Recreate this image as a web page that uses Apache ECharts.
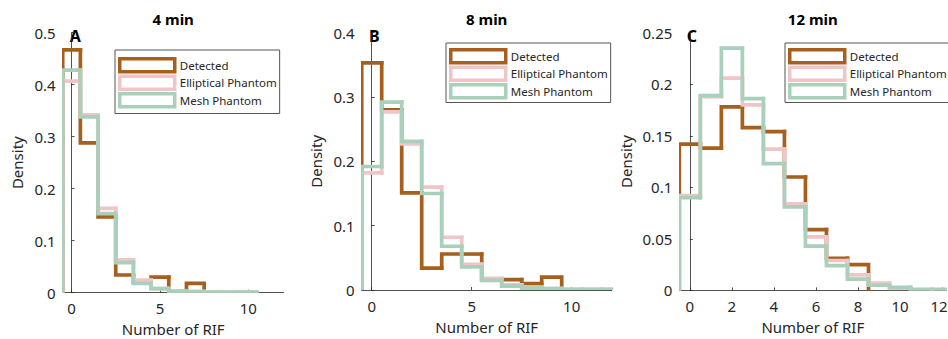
<!DOCTYPE html>
<html><head><meta charset="utf-8">
<script src="https://cdn.jsdelivr.net/npm/echarts@6/dist/echarts.min.js"></script>
<style>html,body{margin:0;padding:0;background:#fff}#c{width:948px;height:339px}</style>
</head><body><div id="c"></div>
<script>
// ---- data (bin i covers [i-0.5, i+0.5]) ----
const seriesNames = ['Detected', 'Elliptical Phantom', 'Mesh Phantom'];
const panelTitles = ['4 min', '8 min', '12 min'];
const panelLetters = ['A', 'B', 'C'];

const detected4   = [0.467, 0.288, 0.146, 0.034, 0.020, 0.030, 0.001, 0.018];
const elliptical4 = [0.407, 0.342, 0.162, 0.063, 0.024, 0.008, 0.003, 0.002, 0.001, 0.001, 0.001];
const mesh4       = [0.428, 0.338, 0.152, 0.058, 0.018, 0.008, 0.003, 0.002, 0.001, 0.001, 0.001];

const detected8   = [0.353, 0.280, 0.151, 0.034, 0.056, 0.056, 0.017, 0.016, 0.010, 0.020];
const elliptical8 = [0.182, 0.277, 0.227, 0.160, 0.082, 0.040, 0.018, 0.008, 0.004, 0.002, 0.001, 0.001, 0.001];
const mesh8       = [0.192, 0.292, 0.231, 0.150, 0.068, 0.036, 0.015, 0.006, 0.003, 0.002, 0.001, 0.001, 0.001];

const detected12   = [0.142, 0.138, 0.178, 0.158, 0.154, 0.110, 0.059, 0.031, 0.025];
const elliptical12 = [0.092, 0.188, 0.206, 0.180, 0.137, 0.084, 0.052, 0.029, 0.015, 0.007, 0.002, 0.0005, 0.0005];
const mesh12       = [0.090, 0.189, 0.235, 0.186, 0.123, 0.081, 0.043, 0.024, 0.011, 0.005, 0.003, 0.001, 0.001];

const xTicks4  = [0, 5, 10];
const xTicks8  = [0, 5, 10];
const xTicks12 = [0, 2, 4, 6, 8, 10, 12];
const xMin = [-0.5, -0.5, -0.5];
const xMax = [12, 12, 12.2];
const yMax = [0.5, 0.4, 0.25];
const yStep = [0.1, 0.1, 0.05];

// ---- styling / layout ----
const colors = ['#A65F1C', '#F0C5C7', '#A8D0BB'];
const FONT = '"Noto Sans", "Open Sans", sans-serif';
const INK = '#262626';
const grids = [
  {left: 62.7, top: 32.7, width: 221, height: 260, outerBoundsMode: 'none'},
  {left: 361.7, top: 32.7, width: 250, height: 257.3, outerBoundsMode: 'none'},
  {left: 679.3, top: 32.7, width: 267, height: 257.7, outerBoundsMode: 'none'}
];
const legendPos = [
  {left: 115, top: 50, padding: [7, 3, 5, 3]},
  {left: 446, top: 43, padding: [5, 3, 3, 3]},
  {left: 785, top: 43, padding: [5, 3, 3, 3]}
];
const yNameGap = [38, 38, 46];

const panels = [
  {data: [detected4, elliptical4, mesh4], ticks: xTicks4},
  {data: [detected8, elliptical8, mesh8], ticks: xTicks8},
  {data: [detected12, elliptical12, mesh12], ticks: xTicks12}
];

function stairs(color) {
  return function (params, api) {
    const c = api.value(0), v = api.value(1), pv = api.value(2), last = api.value(3);
    const pts = [api.coord([c - 0.5, pv]), api.coord([c - 0.5, v]), api.coord([c + 0.5, v])];
    if (last) pts.push(api.coord([c + 0.5, 0]));
    return {
      type: 'polyline',
      shape: {points: pts},
      style: {stroke: color, lineWidth: 3.7, fill: null, lineCap: 'square', lineJoin: 'miter'}
    };
  };
}

const xAxis = [], yAxis = [], series = [], legend = [], graphic = [];
panels.forEach((p, k) => {
  const maxTick = p.ticks[p.ticks.length - 1];
  xAxis.push({
    type: 'value', gridIndex: k, min: xMin[k], max: xMax[k],
    name: 'Number of RIF', nameLocation: 'middle', nameGap: 29,
    nameTextStyle: {fontFamily: FONT, fontSize: 15, color: INK, lineHeight: 15},
    splitLine: {show: false},
    axisLine: {show: true, lineStyle: {color: INK, width: 0.8}},
    axisTick: {show: true, inside: true, length: 3, customValues: p.ticks, lineStyle: {color: INK, width: 0.8}},
    axisLabel: {
      customValues: p.ticks, margin: 8, fontFamily: FONT, fontSize: 15, color: INK,
      formatter: v => (k === 2 && v === maxTick) ? '{e|' + v + '}' : String(v),
      rich: {e: {fontFamily: FONT, fontSize: 15, color: INK, padding: [0, 6, 0, 0]}}
    }
  });
  yAxis.push({
    type: 'value', gridIndex: k, min: 0, max: yMax[k], interval: yStep[k],
    name: 'Density', nameLocation: 'middle', nameGap: yNameGap[k], nameRotate: 90,
    nameTextStyle: {fontFamily: FONT, fontSize: 15, color: INK},
    splitLine: {show: false},
    axisLine: {show: true, lineStyle: {color: INK, width: 0.8}},
    axisTick: {show: true, inside: true, length: 3, lineStyle: {color: INK, width: 0.8}},
    axisLabel: {margin: 7, fontFamily: FONT, fontSize: 15, color: INK}
  });
  p.data.forEach((arr, s) => {
    series.push({
      type: 'custom', name: seriesNames[s], xAxisIndex: k, yAxisIndex: k,
      clip: true, silent: true,
      itemStyle: {color: colors[s]},
      encode: {x: 0, y: 1},
      renderItem: stairs(colors[s]),
      data: arr.map((v, i) => [i, v, i ? arr[i - 1] : 0, i === arr.length - 1 ? 1 : 0])
    });
  });
  legend.push(Object.assign({
    orient: 'vertical', selectedMode: false,
    itemWidth: 55, itemHeight: 13, itemGap: 1,
    borderColor: '#555', borderWidth: 1, backgroundColor: '#fff',
    textStyle: {fontFamily: FONT, fontSize: 11.5, color: INK},
    data: seriesNames.map((n, s) => ({
      name: n, icon: 'rect',
      itemStyle: {color: '#fff', borderColor: colors[s], borderWidth: 3.5}
    }))
  }, legendPos[k]));
  const g = grids[k];
  graphic.push({
    type: 'text', x: g.left + g.width / 2, y: 19, silent: true,
    style: {text: panelTitles[k], font: 'bold 15px ' + FONT, fill: '#000', align: 'center', verticalAlign: 'middle'}
  });
  graphic.push({
    type: 'text', x: g.left + 12.5, y: 36, silent: true,
    style: {text: panelLetters[k], font: 'bold 16px ' + FONT, fill: '#000', align: 'center', verticalAlign: 'middle'}
  });
});

const chart = echarts.init(document.getElementById('c'), null, {renderer: 'svg', width: 948, height: 339});
chart.setOption({
  animation: false,
  backgroundColor: '#fff',
  grid: grids,
  xAxis, yAxis, series, legend, graphic
});
</script>
</body></html>
